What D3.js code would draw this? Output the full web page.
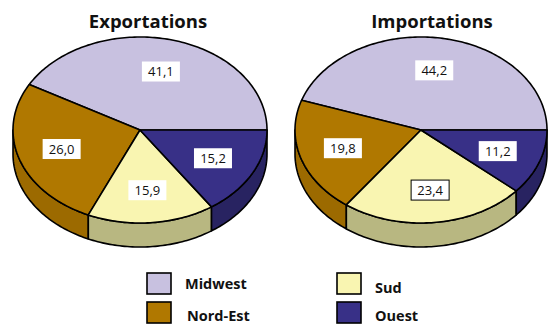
<!DOCTYPE html>
<html>
<head>
<meta charset="utf-8">
<script src="https://cdn.jsdelivr.net/npm/d3@7"></script>
<style>
  html, body { margin: 0; padding: 0; background: #fff; }
  svg { display: block; }
  text { font-family: "Open Sans", "DejaVu Sans", sans-serif; }
</style>
</head>
<body>
<svg id="chart" width="553" height="324"></svg>
<script>
// Regional shares (%) of trade
const regions = ["Midwest", "Nord-Est", "Sud", "Ouest"];
const exportValues = [41.1, 26.0, 15.9, 15.2];
const importValues = [44.2, 19.8, 23.4, 11.2];
const chartTitles = ["Exportations", "Importations"];

const topColors  = ["#c8c1e0", "#b07800", "#f9f5b1", "#383087"];
const sideColors = ["#9c94b8", "#9c6a00", "#b8b781", "#282361"];

const svg = d3.select("#chart");
const color = d3.scaleOrdinal(regions, topColors);
const sideColor = d3.scaleOrdinal(regions, sideColors);
const fmt = v => d3.format(".1f")(v).replace(".", ",");

const pies = [
  { title: chartTitles[0], values: exportValues, cx: 140, cy: 130, rx: 127, ry: 93, depth: 24, titleX: 148 },
  { title: chartTitles[1], values: importValues, cx: 421, cy: 130, rx: 126, ry: 93, depth: 24, titleX: 432 }
];

// slices start at 3 o'clock and run counter-clockwise
const pieLayout = d3.pie().sort(null).startAngle(Math.PI / 2).endAngle(Math.PI / 2 - 2 * Math.PI);
const toTheta = a => Math.PI / 2 - a;  // d3 angle -> math angle (ccw from +x)
const line = d3.line();

pies.forEach(p => {
  const g = svg.append("g");
  const pt = (t, r = 1, dy = 0) => [p.cx + p.rx * r * Math.cos(t), p.cy - p.ry * r * Math.sin(t) + dy];
  const edge = (t0, t1, dy = 0) => {
    const n = Math.max(2, Math.ceil(Math.abs(t1 - t0) / 0.02));
    return d3.range(n + 1).map(i => pt(t0 + (t1 - t0) * i / n, 1, dy));
  };

  const arcs = pieLayout(p.values).map((d, i) => ({
    region: regions[i], value: p.values[i],
    t0: toTheta(d.startAngle), t1: toTheta(d.endAngle)
  }));

  // side walls on the front half
  arcs.forEach(a => {
    const s0 = Math.max(a.t0, Math.PI), s1 = Math.min(a.t1, 2 * Math.PI);
    if (s1 <= s0) return;
    const pts = edge(s0, s1).concat(edge(s1, s0, p.depth));
    g.append("path")
      .attr("d", line(pts) + "Z")
      .attr("fill", sideColor(a.region))
      .attr("stroke", "#000").attr("stroke-width", 1.6).attr("stroke-linejoin", "round");
  });

  // top faces
  arcs.forEach(a => {
    const pts = [[p.cx, p.cy]].concat(edge(a.t0, a.t1));
    g.append("path")
      .attr("d", line(pts) + "Z")
      .attr("fill", color(a.region))
      .attr("stroke", "#000").attr("stroke-width", 1.6).attr("stroke-linejoin", "round");
  });

  // value labels
  arcs.forEach(a => {
    const [x, y] = pt((a.t0 + a.t1) / 2, 0.65);
    const outlined = p.title === "Importations" && a.region === "Sud";
    const lg = g.append("g").attr("transform", `translate(${x},${y})`);
    lg.append("rect")
      .attr("x", -19).attr("y", -10).attr("width", 38).attr("height", 20)
      .attr("fill", "#fff")
      .attr("stroke", outlined ? "#000" : "none").attr("stroke-width", 1);
    lg.append("text")
      .attr("text-anchor", "middle").attr("dy", "0.36em")
      .attr("font-size", 13).attr("fill", "#111")
      .text(fmt(a.value));
  });

  svg.append("text")
    .attr("x", p.titleX).attr("y", 28)
    .attr("text-anchor", "middle")
    .attr("font-size", 18.5).attr("font-weight", "bold").attr("fill", "#111")
    .text(p.title);
});

// legend
const legendBox = [[147, 273], [147, 302], [337, 273], [337, 302]];
const legendText = [[185, 289], [187, 321], [375, 293], [375, 321]];
regions.forEach((r, i) => {
  const [x, y] = legendBox[i];
  svg.append("rect")
    .attr("x", x).attr("y", y).attr("width", 24).attr("height", 21)
    .attr("fill", color(r)).attr("stroke", "#000").attr("stroke-width", 1.6);
  svg.append("text")
    .attr("x", legendText[i][0]).attr("y", legendText[i][1])
    .attr("font-family", "'DejaVu Sans', sans-serif")
    .attr("font-size", 14.5).attr("font-weight", "bold").attr("fill", "#111")
    .text(r);
});
</script>
</body>
</html>
